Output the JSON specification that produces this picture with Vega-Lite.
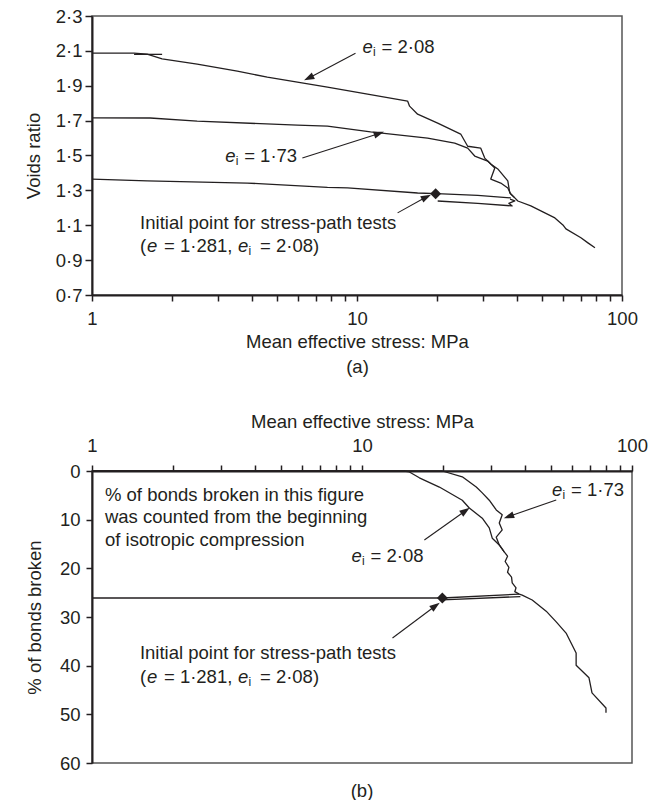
{
  "$schema": "https://vega.github.io/schema/vega-lite/v6.json",
  "padding": {"left": 23, "top": 6, "right": 5, "bottom": 0},
  "background": "white",
  "config": {
    "font": "Liberation Sans",
    "view": {"stroke": "#555555", "strokeWidth": 1.5},
    "axis": {
      "labelFont": "Liberation Sans", "labelFontSize": 18.5, "labelColor": "#231f20",
      "titleFont": "Liberation Sans", "titleFontSize": 18.5, "titleFontWeight": "normal", "titleColor": "#231f20",
      "domainColor": "#231f20", "domainWidth": 2, "tickColor": "#231f20", "tickWidth": 1.5,
      "grid": false, "labelOverlap": false, "labelFlush": false, "zindex": 1
    },
    "text": {"font": "Liberation Sans", "fontSize": 18.5, "color": "#231f20"}
  },
  "datasets": {
    "topCurves": [
      {"s":"A","o":0,"p":1,"e":2.087},{"s":"A","o":1,"p":1.441,"e":2.087},{"s":"A","o":2,"p":1.614,"e":2.081},{"s":"A","o":3,"p":1.839,"e":2.054},
      {"s":"A","o":4,"p":2.494,"e":2.024},{"s":"A","o":5,"p":3.534,"e":1.984},{"s":"A","o":6,"p":4.587,"e":1.949},{"s":"A","o":7,"p":5.957,"e":1.921},
      {"s":"A","o":8,"p":7.735,"e":1.892},{"s":"A","o":9,"p":10.96,"e":1.852},{"s":"A","o":10,"p":15.52,"e":1.812},{"s":"A","o":11,"p":15.79,"e":1.783},
      {"s":"A","o":12,"p":16.93,"e":1.737},{"s":"A","o":13,"p":20.16,"e":1.686},{"s":"A","o":14,"p":24.62,"e":1.623},{"s":"A","o":15,"p":26.16,"e":1.553},
      {"s":"A","o":16,"p":29.31,"e":1.542},{"s":"A","o":17,"p":30.34,"e":1.485},{"s":"A","o":18,"p":31.97,"e":1.451},{"s":"A","o":19,"p":33.98,"e":1.423},
      {"s":"A","o":20,"p":37.07,"e":1.354},{"s":"A","o":21,"p":37.72,"e":1.285},{"s":"A","o":22,"p":39.4,"e":1.257},{"s":"A","o":23,"p":40.45,"e":1.239},
      {"s":"A","o":24,"p":45.29,"e":1.211},{"s":"A","o":25,"p":50.27,"e":1.177},{"s":"A","o":26,"p":55.81,"e":1.142},{"s":"A","o":27,"p":59.84,"e":1.102},
      {"s":"A","o":28,"p":61.43,"e":1.079},{"s":"A","o":29,"p":69.98,"e":1.028},{"s":"A","o":30,"p":74.37,"e":0.999},{"s":"A","o":31,"p":79.07,"e":0.971},
      {"s":"A2","o":0,"p":1.441,"e":2.08},{"s":"A2","o":1,"p":1.839,"e":2.08},
      {"s":"B","o":0,"p":1,"e":1.716},{"s":"B","o":1,"p":1.657,"e":1.715},{"s":"B","o":2,"p":2.494,"e":1.697},{"s":"B","o":3,"p":5.957,"e":1.674},
      {"s":"B","o":4,"p":7.735,"e":1.669},{"s":"B","o":5,"p":11.25,"e":1.635},{"s":"B","o":6,"p":18.47,"e":1.6},{"s":"B","o":7,"p":23.37,"e":1.571},
      {"s":"B","o":8,"p":26.16,"e":1.542},{"s":"B","o":9,"p":27.81,"e":1.497},{"s":"B","o":10,"p":31.14,"e":1.468},{"s":"B","o":11,"p":33.11,"e":1.428},
      {"s":"B","o":12,"p":31.97,"e":1.365},{"s":"B","o":13,"p":34.87,"e":1.342},{"s":"B","o":14,"p":37.07,"e":1.314},{"s":"B","o":15,"p":38.05,"e":1.279},
      {"s":"B","o":16,"p":39.4,"e":1.257},
      {"s":"C","o":0,"p":1,"e":1.364},{"s":"C","o":1,"p":1.614,"e":1.354},{"s":"C","o":2,"p":3.855,"e":1.342},{"s":"C","o":3,"p":7.735,"e":1.317},
      {"s":"C","o":4,"p":9.21,"e":1.314},{"s":"C","o":5,"p":16.93,"e":1.285},{"s":"C","o":6,"p":21.05,"e":1.28},{"s":"C","o":7,"p":28.55,"e":1.271},
      {"s":"C","o":8,"p":38.05,"e":1.257},
      {"s":"D","o":0,"p":20.16,"e":1.239},{"s":"D","o":1,"p":28.55,"e":1.225},{"s":"D","o":2,"p":38.5,"e":1.211},{"s":"D","o":3,"p":37.4,"e":1.226},
      {"s":"D","o":4,"p":39.4,"e":1.24},{"s":"D","o":5,"p":37.8,"e":1.25}
    ],
    "topMarker": [{"p":19.8,"e":1.281}],
    "topArrows": [
      {"id":1,"p":6.61,"e":1.946,"p2":9.87,"e2":2.087},
      {"id":2,"p":12.04,"e":1.625,"p2":6.22,"e2":1.486},
      {"id":3,"p":18.17,"e":1.26,"p2":14.23,"e2":1.171}
    ],
    "topPlain": [
      {"p":1.519,"e":1.114,"t":"Initial point for stress-path tests"}
    ],
    "topEi": [
      {"p":10.49,"e":2.121,"r":"= 2·08"},
      {"p":3.18,"e":1.497,"r":"= 1·73"}
    ],
    "topParen": [
      {"p":1.519,"e":0.982,"r1":"= 1·281,","r2":"= 2·08)"}
    ],
    "botCurves": [
      {"s":"L","o":0,"p":1,"b":0},{"s":"L","o":1,"p":14.36,"b":0},{"s":"L","o":2,"p":14.98,"b":0.2},{"s":"L","o":3,"p":16.31,"b":1.4},
      {"s":"L","o":4,"p":19.34,"b":3.3},{"s":"L","o":5,"p":23.52,"b":6.0},{"s":"L","o":6,"p":24.97,"b":7.6},{"s":"L","o":7,"p":27.89,"b":9.7},
      {"s":"L","o":8,"p":29.6,"b":11.7},{"s":"L","o":9,"p":30.37,"b":13.8},{"s":"L","o":10,"p":32.24,"b":15.2},{"s":"L","o":11,"p":33.63,"b":16.6},
      {"s":"L","o":12,"p":34.6,"b":17.5},{"s":"L","o":13,"p":33.9,"b":18.6},{"s":"L","o":14,"p":35.0,"b":19.8},{"s":"L","o":15,"p":34.6,"b":20.8},
      {"s":"L","o":16,"p":35.8,"b":21.8},{"s":"L","o":17,"p":36.0,"b":23.0},{"s":"L","o":18,"p":37.2,"b":24.0},{"s":"L","o":19,"p":36.8,"b":24.8},
      {"s":"L","o":20,"p":38.22,"b":25.3},{"s":"L","o":21,"p":39.2,"b":25.5},{"s":"L","o":22,"p":42.7,"b":26.5},{"s":"L","o":23,"p":48.1,"b":28.8},
      {"s":"L","o":24,"p":52.4,"b":31.0},{"s":"L","o":25,"p":57.0,"b":33.3},{"s":"L","o":26,"p":62.1,"b":37.4},{"s":"L","o":27,"p":62.1,"b":39.9},
      {"s":"L","o":28,"p":69.3,"b":42.5},{"s":"L","o":29,"p":71.1,"b":45.6},{"s":"L","o":30,"p":80.1,"b":48.7},{"s":"L","o":31,"p":80.1,"b":49.7},
      {"s":"R","o":0,"p":1,"b":0},{"s":"R","o":1,"p":19.84,"b":0},{"s":"R","o":2,"p":23.52,"b":1.2},{"s":"R","o":3,"p":26.5,"b":3.3},
      {"s":"R","o":4,"p":27.89,"b":4.5},{"s":"R","o":5,"p":29.6,"b":6.0},{"s":"R","o":6,"p":31.42,"b":8.0},{"s":"R","o":7,"p":33.06,"b":9.0},
      {"s":"R","o":8,"p":32.24,"b":10.7},{"s":"R","o":9,"p":33.06,"b":12.1},{"s":"R","o":10,"p":31.42,"b":13.6},{"s":"R","o":11,"p":32.24,"b":15.2},
      {"s":"R","o":12,"p":33.63,"b":16.6},
      {"s":"U","o":0,"p":1,"b":26.1},{"s":"U","o":1,"p":19.84,"b":26.1},{"s":"U","o":2,"p":38.22,"b":25.3},
      {"s":"U2","o":0,"p":19.84,"b":26.5},{"s":"U2","o":1,"p":38.6,"b":25.8}
    ],
    "botMarker": [{"p":19.84,"b":26.1}],
    "botArrows": [
      {"id":1,"p":24.04,"b":8.26,"p2":17.02,"b2":14.18},
      {"id":2,"p":35.16,"b":9.29,"p2":52.4,"b2":5.96},
      {"id":3,"p":18.63,"b":27.8,"p2":12.97,"b2":34.31}
    ],
    "botPlain": [
      {"p":1.117,"b":4.93,"t":"% of bonds broken in this figure"},
      {"p":1.117,"b":9.45,"t":"was counted from the beginning"},
      {"p":1.117,"b":14.18,"t":"of isotropic compression"},
      {"p":1.505,"b":37.4,"t":"Initial point for stress-path tests"}
    ],
    "botEi": [
      {"p":9.15,"b":17.46,"r":"= 2·08"},
      {"p":50.6,"b":3.9,"r":"= 1·73"}
    ],
    "botParen": [
      {"p":1.505,"b":42.3,"r1":"= 1·281,","r2":"= 2·08)"}
    ]
  },
  "spacing": 34,
  "resolve": {"scale": {"x": "independent", "y": "independent"}},
  "vconcat": [
    {
      "width": 530,
      "height": 279,
      "encoding": {
        "x": {"field": "p", "type": "quantitative",
          "scale": {"type": "log", "domain": [1, 100]},
          "axis": {"values": [1,2,3,4,5,6,7,8,9,10,20,30,40,50,60,70,80,90,100],
            "labelExpr": "datum.value == 1 || datum.value == 10 || datum.value == 100 ? format(datum.value, 'd') : ''",
            "tickSize": 6, "labelPadding": 8, "titlePadding": 5, "titleLineHeight": 25,
            "title": ["Mean effective stress: MPa", "(a)"]}},
        "y": {"field": "e", "type": "quantitative",
          "scale": {"domain": [0.7, 2.3], "nice": false, "zero": false},
          "axis": {"values": [0.7,0.9,1.1,1.3,1.5,1.7,1.9,2.1,2.3],
            "labelExpr": "replace(format(datum.value, '.1f'), '.', '·')",
            "tickSize": 7, "labelPadding": 3, "titlePadding": 12, "title": "Voids ratio"}}
      },
      "layer": [
        {"data": {"name": "topCurves"},
          "mark": {"type": "line", "color": "#231f20", "strokeWidth": 1.3, "strokeJoin": "round"},
          "encoding": {"detail": {"field": "s"}, "order": {"field": "o", "type": "quantitative"}}},
        {"data": {"name": "topArrows"},
          "mark": {"type": "rule", "color": "#231f20", "strokeWidth": 1.1},
          "encoding": {"x2": {"field": "p2"}, "y2": {"field": "e2"}}},
        {"data": {"name": "topArrows"}, "transform": [{"filter": "datum.id == 1"}],
          "mark": {"type": "point", "shape": "M0,-1L0.6,0.75L-0.6,0.75Z", "size": 140, "angle": 244, "filled": true, "color": "#231f20", "opacity": 1},
          "encoding": {}},
        {"data": {"name": "topArrows"}, "transform": [{"filter": "datum.id == 2"}],
          "mark": {"type": "point", "shape": "M0,-1L0.6,0.75L-0.6,0.75Z", "size": 140, "angle": 72, "filled": true, "color": "#231f20", "opacity": 1},
          "encoding": {}},
        {"data": {"name": "topArrows"}, "transform": [{"filter": "datum.id == 3"}],
          "mark": {"type": "point", "shape": "M0,-1L0.6,0.75L-0.6,0.75Z", "size": 140, "angle": 63, "filled": true, "color": "#231f20", "opacity": 1},
          "encoding": {}},
        {"data": {"name": "topMarker"},
          "mark": {"type": "point", "shape": "diamond", "size": 120, "filled": true, "color": "#231f20", "opacity": 1},
          "encoding": {}},
        {"data": {"name": "topPlain"},
          "mark": {"type": "text", "align": "left", "baseline": "middle"},
          "encoding": {"text": {"field": "t"}}},
        {"data": {"name": "topEi"},
          "mark": {"type": "text", "align": "left", "baseline": "middle", "fontStyle": "italic"},
          "encoding": {"text": {"value": "e"}}},
        {"data": {"name": "topEi"},
          "mark": {"type": "text", "align": "left", "baseline": "middle", "fontSize": 12, "dx": 10.5, "dy": 5},
          "encoding": {"text": {"value": "i"}}},
        {"data": {"name": "topEi"},
          "mark": {"type": "text", "align": "left", "baseline": "middle", "dx": 19},
          "encoding": {"text": {"field": "r"}}},
        {"data": {"name": "topParen"},
          "mark": {"type": "text", "align": "left", "baseline": "middle"},
          "encoding": {"text": {"value": "("}}},
        {"data": {"name": "topParen"},
          "mark": {"type": "text", "align": "left", "baseline": "middle", "fontStyle": "italic", "dx": 7},
          "encoding": {"text": {"value": "e"}}},
        {"data": {"name": "topParen"},
          "mark": {"type": "text", "align": "left", "baseline": "middle", "dx": 24},
          "encoding": {"text": {"field": "r1"}}},
        {"data": {"name": "topParen"},
          "mark": {"type": "text", "align": "left", "baseline": "middle", "fontStyle": "italic", "dx": 98},
          "encoding": {"text": {"value": "e"}}},
        {"data": {"name": "topParen"},
          "mark": {"type": "text", "align": "left", "baseline": "middle", "fontSize": 12, "dx": 108.5, "dy": 5},
          "encoding": {"text": {"value": "i"}}},
        {"data": {"name": "topParen"},
          "mark": {"type": "text", "align": "left", "baseline": "middle", "dx": 120},
          "encoding": {"text": {"field": "r2"}}}
      ]
    },
    {
      "width": 540,
      "height": 292,
      "title": {"text": "(b)", "orient": "bottom", "offset": 9, "fontSize": 18.5, "fontWeight": "normal", "font": "Liberation Sans", "color": "#231f20"},
      "encoding": {
        "x": {"field": "p", "type": "quantitative",
          "scale": {"type": "log", "domain": [1, 100]},
          "axis": {"orient": "top", "values": [1,2,3,4,5,6,7,8,9,10,20,30,40,50,60,70,80,90,100],
            "labelExpr": "datum.value == 1 || datum.value == 10 || datum.value == 100 ? format(datum.value, 'd') : ''",
            "tickSize": 6, "labelPadding": 10, "titlePadding": 5,
            "title": "Mean effective stress: MPa"}},
        "y": {"field": "b", "type": "quantitative",
          "scale": {"domain": [0, 60], "reverse": true, "nice": false},
          "axis": {"values": [0,10,20,30,40,50,60], "format": "d",
            "tickSize": 6, "labelPadding": 6, "titlePadding": 15, "title": "% of bonds broken"}}
      },
      "layer": [
        {"data": {"name": "botCurves"},
          "mark": {"type": "line", "color": "#231f20", "strokeWidth": 1.3, "strokeJoin": "round"},
          "encoding": {"detail": {"field": "s"}, "order": {"field": "o", "type": "quantitative"}}},
        {"data": {"name": "botArrows"},
          "mark": {"type": "rule", "color": "#231f20", "strokeWidth": 1.1},
          "encoding": {"x2": {"field": "p2"}, "y2": {"field": "b2"}}},
        {"data": {"name": "botArrows"}, "transform": [{"filter": "datum.id == 1"}],
          "mark": {"type": "point", "shape": "M0,-1L0.6,0.75L-0.6,0.75Z", "size": 140, "angle": 55, "filled": true, "color": "#231f20", "opacity": 1},
          "encoding": {}},
        {"data": {"name": "botArrows"}, "transform": [{"filter": "datum.id == 2"}],
          "mark": {"type": "point", "shape": "M0,-1L0.6,0.75L-0.6,0.75Z", "size": 140, "angle": 251, "filled": true, "color": "#231f20", "opacity": 1},
          "encoding": {}},
        {"data": {"name": "botArrows"}, "transform": [{"filter": "datum.id == 3"}],
          "mark": {"type": "point", "shape": "M0,-1L0.6,0.75L-0.6,0.75Z", "size": 140, "angle": 54, "filled": true, "color": "#231f20", "opacity": 1},
          "encoding": {}},
        {"data": {"name": "botMarker"},
          "mark": {"type": "point", "shape": "diamond", "size": 120, "filled": true, "color": "#231f20", "opacity": 1},
          "encoding": {}},
        {"data": {"name": "botPlain"},
          "mark": {"type": "text", "align": "left", "baseline": "middle"},
          "encoding": {"text": {"field": "t"}}},
        {"data": {"name": "botEi"},
          "mark": {"type": "text", "align": "left", "baseline": "middle", "fontStyle": "italic"},
          "encoding": {"text": {"value": "e"}}},
        {"data": {"name": "botEi"},
          "mark": {"type": "text", "align": "left", "baseline": "middle", "fontSize": 12, "dx": 10.5, "dy": 5},
          "encoding": {"text": {"value": "i"}}},
        {"data": {"name": "botEi"},
          "mark": {"type": "text", "align": "left", "baseline": "middle", "dx": 19},
          "encoding": {"text": {"field": "r"}}},
        {"data": {"name": "botParen"},
          "mark": {"type": "text", "align": "left", "baseline": "middle"},
          "encoding": {"text": {"value": "("}}},
        {"data": {"name": "botParen"},
          "mark": {"type": "text", "align": "left", "baseline": "middle", "fontStyle": "italic", "dx": 7},
          "encoding": {"text": {"value": "e"}}},
        {"data": {"name": "botParen"},
          "mark": {"type": "text", "align": "left", "baseline": "middle", "dx": 24},
          "encoding": {"text": {"field": "r1"}}},
        {"data": {"name": "botParen"},
          "mark": {"type": "text", "align": "left", "baseline": "middle", "fontStyle": "italic", "dx": 98},
          "encoding": {"text": {"value": "e"}}},
        {"data": {"name": "botParen"},
          "mark": {"type": "text", "align": "left", "baseline": "middle", "fontSize": 12, "dx": 108.5, "dy": 5},
          "encoding": {"text": {"value": "i"}}},
        {"data": {"name": "botParen"},
          "mark": {"type": "text", "align": "left", "baseline": "middle", "dx": 120},
          "encoding": {"text": {"field": "r2"}}}
      ]
    }
  ]
}
